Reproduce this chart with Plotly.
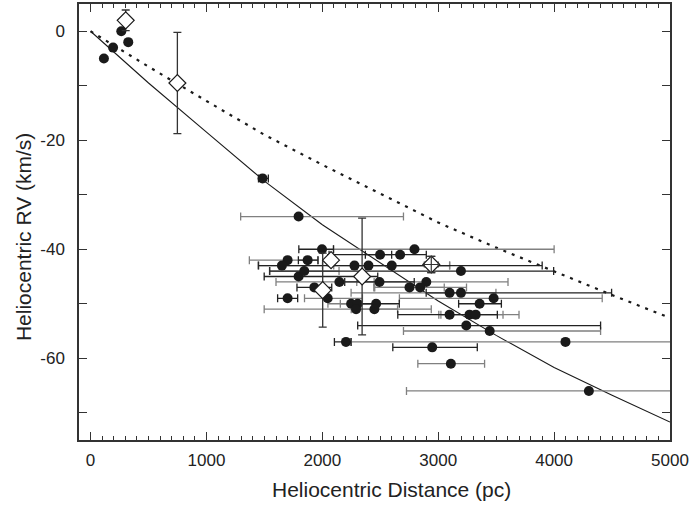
import plotly.graph_objects as go

# ---- model curves ----
model_x = [0, 500, 1000, 1500, 2000, 2500, 3000, 3500, 4000, 4500, 5000]
solid_rv = [0, -9.5, -18.5, -27.5, -35.5, -42.5, -49.5, -55.8, -61.7, -66.8, -71.7]
dashed_rv = [0, -6.5, -12.8, -19.0, -24.5, -29.8, -35.1, -39.7, -44.1, -48.4, -52.6]

# ---- filled circles without error bars ----
near_x = [115, 194, 265, 325]
near_rv = [-5, -3, 0, -2]

# ---- filled circles, dark error bars ----
dark_x = [1484, 1997, 2498, 2671, 1873, 2277, 3196, 1795, 2493, 1931, 3196, 1700,
          3357, 2464, 3098, 3242, 2204, 2948]
dark_rv = [-27, -40, -41, -41, -42, -43, -44, -45, -46, -47, -48, -49,
           -50, -50, -52, -54, -57, -58]
dark_em = [35, 200, 440, 300, 80, 830, 1650, 297, 300, 150, 300, 86,
           181, 200, 447, 937, 100, 340]
dark_ep = [50, 100, 100, 226, 90, 1620, 800, 683, 300, 150, 1300, 87,
           188, 200, 412, 1159, 44, 389]

# ---- filled circles, grey error bars ----
grey_x = [1795, 2795, 1700, 1651, 2398, 2599, 1844, 2147, 2897, 2752, 2844, 3098,
          2046, 3478, 2248, 2305, 2291, 2449, 3270, 3323, 3444, 4098, 3109, 4300]
grey_rv = [-34, -40, -42, -43, -43, -43, -44, -46, -46, -47, -47, -48,
           -49, -49, -50, -50, -51, -51, -52, -52, -55, -57, -61, -66]
grey_em = [500, 700, 330, 200, 300, 300, 300, 547, 600, 300, 400, 850,
           200, 813, 200, 150, 793, 200, 265, 300, 744, 1850, 285, 1574]
grey_ep = [905, 1205, 260, 350, 700, 500, 300, 300, 705, 300, 400, 400,
           300, 937, 200, 150, 649, 200, 289, 374, 957, 1100, 291, 900]

# ---- open diamonds ----
dia_x = [303, 749, 2075, 2343, 2003, 2940]
dia_rv = [2.0, -9.5, -42.0, -45.0, -47.5, -42.8]
dia_err = [1.9, 9.3, 1.0, 10.7, 6.8, 1.5]
dia_xerr = [0, 0, 0, 0, 0, 60]

# ---- tick labels ----
x_ticks = [0, 1000, 2000, 3000, 4000, 5000]
y_ticks = [0, -20, -40, -60]
y_ticktext = ["0", "-20", "-40", "-60"]

BLACK = "#1a1a1a"
FONT = "Liberation Sans, Arial, sans-serif"

fig = go.Figure()

fig.add_trace(go.Scatter(x=model_x, y=dashed_rv, mode="lines",
                         line=dict(color=BLACK, width=2.2, dash="3px,6px"),
                         hoverinfo="skip"))
fig.add_trace(go.Scatter(x=model_x, y=solid_rv, mode="lines",
                         line=dict(color=BLACK, width=1.1), hoverinfo="skip"))

# error bars (markers invisible)
fig.add_trace(go.Scatter(x=grey_x, y=grey_rv, mode="markers",
                         marker=dict(size=1, color="rgba(0,0,0,0)"),
                         error_x=dict(type="data", symmetric=False, array=grey_ep,
                                      arrayminus=grey_em, color="#808080",
                                      thickness=1.3, width=4)))
fig.add_trace(go.Scatter(x=dark_x, y=dark_rv, mode="markers",
                         marker=dict(size=1, color="rgba(0,0,0,0)"),
                         error_x=dict(type="data", symmetric=False, array=dark_ep,
                                      arrayminus=dark_em, color="#222222",
                                      thickness=1.3, width=4)))

# circles on top
fig.add_trace(go.Scatter(x=near_x + dark_x + grey_x, y=near_rv + dark_rv + grey_rv,
                         mode="markers",
                         marker=dict(size=10, color=BLACK, line=dict(width=0))))

# diamonds with vertical error bars
fig.add_trace(go.Scatter(x=dia_x, y=dia_rv, mode="markers",
                         marker=dict(symbol="diamond", size=13, color="white",
                                     line=dict(color=BLACK, width=1.2)),
                         error_y=dict(type="data", array=dia_err, color="#333333",
                                      thickness=1.3, width=4)))
# the cross drawn over the last diamond
fig.add_trace(go.Scatter(x=dia_x[5:], y=dia_rv[5:], mode="markers",
                         marker=dict(size=1, color="rgba(0,0,0,0)"),
                         error_y=dict(type="data", array=dia_err[5:], color="#333333",
                                      thickness=1.2, width=4),
                         error_x=dict(type="data", array=dia_xerr[5:], color="#333333",
                                      thickness=1.2, width=3)))

axis_common = dict(showline=True, linecolor="#333333", linewidth=1.5, mirror="ticks",
                   ticks="inside", tickcolor="#333333", tickwidth=1.2, ticklen=8,
                   showgrid=False, zeroline=False,
                   tickfont=dict(family=FONT, size=17, color="#222222"))

fig.update_layout(
    width=691, height=505,
    margin=dict(l=79.3, r=21, t=2, b=64.5),
    paper_bgcolor="white", plot_bgcolor="white",
    showlegend=False,
    xaxis=dict(range=[-100, 5000], tickvals=x_ticks,
               ticklabelstandoff=4,
               minor=dict(dtick=100, tick0=0, ticks="inside", ticklen=4,
                          tickcolor="#333333", tickwidth=1),
               **axis_common),
    yaxis=dict(range=[-75, 5], tickvals=y_ticks, ticktext=y_ticktext,
               ticklabelstandoff=9,
               minor=dict(tickvals=[-10, -30, -50, -70], ticks="inside", ticklen=8,
                          tickcolor="#333333", tickwidth=1.2),
               **axis_common),
    annotations=[
        dict(text="Heliocentric Distance (pc)", xref="paper", yref="paper",
             x=0.528, y=-0.113, xanchor="center", yanchor="middle", showarrow=False,
             font=dict(family=FONT, size=21, color="#222222")),
        dict(text="Heliocentric RV (km/s)", xref="paper", yref="paper",
             x=-0.095, y=0.465, xanchor="center", yanchor="middle", showarrow=False,
             textangle=-90, font=dict(family=FONT, size=21, color="#222222")),
    ],
)

fig.write_html("out.html")
